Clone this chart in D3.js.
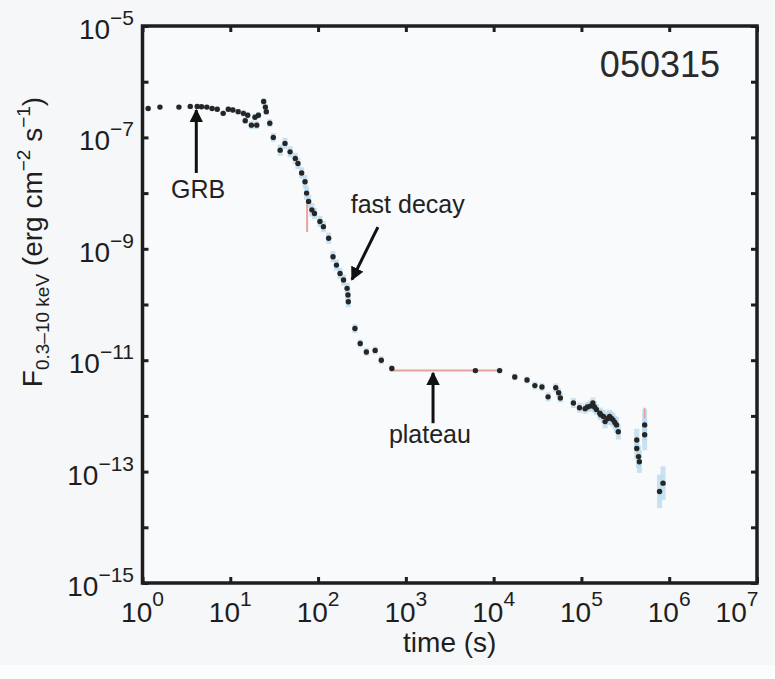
<!DOCTYPE html>
<html><head><meta charset="utf-8">
<script src="https://cdn.jsdelivr.net/npm/d3@7"></script>
<style>
html,body{margin:0;padding:0;background:#f5f7f8;}
svg{display:block;font-family:"Liberation Sans",Arial,Helvetica,sans-serif;}
</style></head>
<body>
<svg id="chart" width="775" height="679"></svg>
<script>
// ---- data ----
const timeS = [1.16,1.58,2.6,3.5,4.2,4.7,5.4,6.2,7.1,8.3,9.5,10.7,12.3,14.1,14.8,15.8,17.4,19.1,20.0,20.9,24.0,25.1,25.7,28.2,30.9,
  37,42,48,55,59,65,71,74,78,85,91,105,115,132,148,162,178,195,214,219,221,263,302,355,447,525,692,
  6200,11700,17400,24000,29500,35500,41700,51000,55000,57500,81000,95000,110000,117000,126000,135000,141000,148000,162000,166000,178000,186000,200000,209000,219000,229000,240000,251000,263000,
  427000,427000,447000,457000,525000,525000,851000,776000];
const flux = [3.3e-7,3.5e-7,3.5e-7,3.6e-7,3.6e-7,3.55e-7,3.5e-7,3.3e-7,3.2e-7,2.7e-7,3.2e-7,3.1e-7,2.9e-7,2.7e-7,2.0e-7,2.5e-7,1.66e-7,2.3e-7,1.66e-7,2.5e-7,4.4e-7,3.5e-7,2.9e-7,1.8e-7,1.0e-7,
  5.9e-8,7.8e-8,5.5e-8,4.2e-8,3.4e-8,2.3e-8,1.6e-8,1.0e-8,7.1e-9,5.0e-9,4.3e-9,3.1e-9,2.5e-9,1.55e-9,7.2e-10,5.1e-10,3.6e-10,2.75e-10,1.95e-10,1.48e-10,1.12e-10,3.7e-11,2.0e-11,1.4e-11,1.5e-11,1.0e-11,7.1e-12,
  6.5e-12,6.5e-12,5.0e-12,4.4e-12,3.5e-12,3.3e-12,2.2e-12,3.2e-12,2.6e-12,2.1e-12,1.7e-12,1.4e-12,1.35e-12,1.45e-12,1.5e-12,1.7e-12,1.45e-12,1.3e-12,1.12e-12,1.05e-12,9.8e-13,7.9e-13,9.0e-13,9.8e-13,9.1e-13,8.5e-13,7.6e-13,6.9e-13,5.2e-13,
  3.7e-13,2.6e-13,1.86e-13,1.5e-13,6.9e-13,4.6e-13,6.2e-14,4.4e-14];
// vertical error half-widths (dex)
const errDex = [0.04,0.04,0.04,0.04,0.04,0.04,0.04,0.04,0.05,0.05,0.05,0.05,0.05,0.06,0.06,0.06,0.07,0.06,0.07,0.06,0.06,0.06,0.06,0.07,0.08,
  0.1,0.1,0.1,0.1,0.1,0.1,0.12,0.12,0.12,0.12,0.1,0.1,0.1,0.1,0.1,0.1,0.1,0.1,0.1,0.1,0.1,0.08,0.07,0.07,0.07,0.07,0.06,
  0.04,0.05,0.06,0.06,0.07,0.07,0.08,0.08,0.08,0.08,0.09,0.09,0.09,0.09,0.1,0.1,0.1,0.1,0.1,0.1,0.12,0.12,0.12,0.12,0.12,0.12,0.12,0.14,0.14,
  0.2,0.2,0.2,0.2,0.28,0.28,0.3,0.3];
const plateauBar = {t: 6200, tLo: 710, tHi: 12000, f: 6.5e-12};
const redBars = [{t: 75, lo: 2.0e-9, hi: 7.6e-9}, {t: 525000, lo: 9.0e-13, hi: 1.4e-12}];
const xDecades = [0,1,2,3,4,5,6,7];
const yDecades = [-5,-6,-7,-8,-9,-10,-11,-12,-13,-14,-15];
const yLabelExps = [-5,-7,-9,-11,-13,-15];
const burstName = "050315";
const notes = [
  {text: "GRB", tx: 4.3, ty: 8.1e-9, from: [4.1, 2.3e-8], to: [4.1, 3.1e-7]},
  {text: "fast decay", tx: 1050, ty: 4.4e-9, from: [480, 2.45e-9], to: [243, 2.8e-10]},
  {text: "plateau", tx: 1880, ty: 3.2e-13, from: [2040, 7.4e-13], to: [2040, 5.9e-12]}
];

// ---- layout ----
const L = 142.5, R = 757, T = 26, B = 583;
const svg = d3.select("#chart");
const x = d3.scaleLog().domain([1, 1e7]).range([L, R]);
const y = d3.scaleLog().domain([1e-15, 1e-5]).range([B, T]);
const ink = "#1e1e1e";

svg.append("rect").attr("x", 0).attr("y", 665).attr("width", 775).attr("height", 14).attr("fill", "#fbfcfc");
svg.append("rect").attr("x", L).attr("y", T).attr("width", R - L).attr("height", B - T).attr("fill", "#f9fafb");

// error bars
const g = svg.append("g");
g.selectAll("line.eb").data(timeS).join("line").attr("class", "eb")
  .attr("x1", d => x(d)).attr("x2", d => x(d))
  .attr("y1", (d, i) => y(flux[i] * Math.pow(10, errDex[i])))
  .attr("y2", (d, i) => y(flux[i] / Math.pow(10, errDex[i])))
  .attr("stroke", "#b8daee").attr("stroke-width", 5).attr("opacity", 0.75);
g.selectAll("line.rb").data(redBars).join("line").attr("class", "rb")
  .attr("x1", d => x(d.t)).attr("x2", d => x(d.t))
  .attr("y1", d => y(d.hi)).attr("y2", d => y(d.lo))
  .attr("stroke", "#e6a49c").attr("stroke-width", 2);
g.append("line")
  .attr("x1", x(plateauBar.tLo)).attr("x2", x(plateauBar.tHi))
  .attr("y1", y(plateauBar.f)).attr("y2", y(plateauBar.f))
  .attr("stroke", "#e3a39c").attr("stroke-width", 2);
g.selectAll("circle").data(timeS).join("circle")
  .attr("cx", d => x(d)).attr("cy", (d, i) => y(flux[i]))
  .attr("r", 2.7).attr("fill", "#262626");

// axes ticks (inward), via d3 axes
const tickSz = 6;
function styleAx(sel){ sel.select(".domain").remove(); sel.selectAll("line").attr("stroke", ink).attr("stroke-width", 3); sel.selectAll("text").remove(); }
svg.append("g").attr("transform", `translate(0,${B})`).call(d3.axisBottom(x).tickValues(xDecades.map(e => Math.pow(10, e))).tickSize(-tickSz).tickFormat("")).call(styleAx);
svg.append("g").attr("transform", `translate(0,${T})`).call(d3.axisTop(x).tickValues(xDecades.map(e => Math.pow(10, e))).tickSize(-tickSz).tickFormat("")).call(styleAx);
svg.append("g").attr("transform", `translate(${L},0)`).call(d3.axisLeft(y).tickValues(yDecades.map(e => Math.pow(10, e))).tickSize(-tickSz).tickFormat("")).call(styleAx);
svg.append("g").attr("transform", `translate(${R},0)`).call(d3.axisRight(y).tickValues(yDecades.map(e => Math.pow(10, e))).tickSize(-tickSz).tickFormat("")).call(styleAx);

// frame
svg.append("rect").attr("x", L).attr("y", T).attr("width", R - L).attr("height", B - T)
  .attr("fill", "none").attr("stroke", ink).attr("stroke-width", 3.5);

// tick labels
const baseFs = 28, supFs = 21;
const minus = "\u2212";
xDecades.forEach((e, i) => {
  const t = svg.append("text").attr("y", 622).attr("fill", ink).attr("font-size", baseFs);
  const last = i === xDecades.length - 1;
  t.attr("x", x(Math.pow(10, e)) + (last ? -20 : 0)).attr("text-anchor", "middle");
  t.append("tspan").text("10");
  t.append("tspan").attr("font-size", supFs).attr("dy", -16).text(String(e));
});
yLabelExps.forEach(e => {
  const t = svg.append("text").attr("x", 134).attr("y", y(Math.pow(10, e)) + 13).attr("fill", ink)
    .attr("font-size", baseFs).attr("text-anchor", "end");
  t.append("tspan").text("10");
  t.append("tspan").attr("font-size", supFs).attr("dy", -14).text(minus + Math.abs(e));
});

// axis titles
svg.append("text").attr("x", (L + R) / 2).attr("y", 652).attr("text-anchor", "middle")
  .attr("font-size", 28).attr("fill", ink).text("time (s)");
const yt = svg.append("text").attr("transform", "translate(42,242) rotate(-90)")
  .attr("text-anchor", "middle").attr("font-size", 28).attr("fill", ink);
yt.append("tspan").text("F");
yt.append("tspan").attr("font-size", 19).attr("dy", 7).text("0.3\u201310 keV");
yt.append("tspan").attr("dy", -7).text(" (erg cm");
yt.append("tspan").attr("font-size", 19).attr("dy", -12).text(minus + "2");
yt.append("tspan").attr("dy", 12).text(" s");
yt.append("tspan").attr("font-size", 19).attr("dy", -12).text(minus + "1");
yt.append("tspan").attr("dy", 12).text(")");

// burst name
svg.append("text").attr("x", 720).attr("y", 77).attr("text-anchor", "end")
  .attr("font-size", 36).attr("fill", "#2a2a2a").text(burstName);

// annotations
const defs = svg.append("defs");
defs.append("marker").attr("id", "ah").attr("viewBox", "0 0 10 10").attr("refX", 9).attr("refY", 5)
  .attr("markerWidth", 4.5).attr("markerHeight", 4.5).attr("orient", "auto")
  .append("path").attr("d", "M0,0 L10,5 L0,10 z").attr("fill", "#111");
notes.forEach(n => {
  svg.append("line").attr("x1", x(n.from[0])).attr("y1", y(n.from[1]))
    .attr("x2", x(n.to[0])).attr("y2", y(n.to[1]))
    .attr("stroke", "#111").attr("stroke-width", 3).attr("marker-end", "url(#ah)");
  svg.append("text").attr("x", x(n.tx)).attr("y", y(n.ty)).attr("text-anchor", "middle")
    .attr("font-size", 25).attr("fill", "#222").text(n.text);
});
</script>
</body></html>
